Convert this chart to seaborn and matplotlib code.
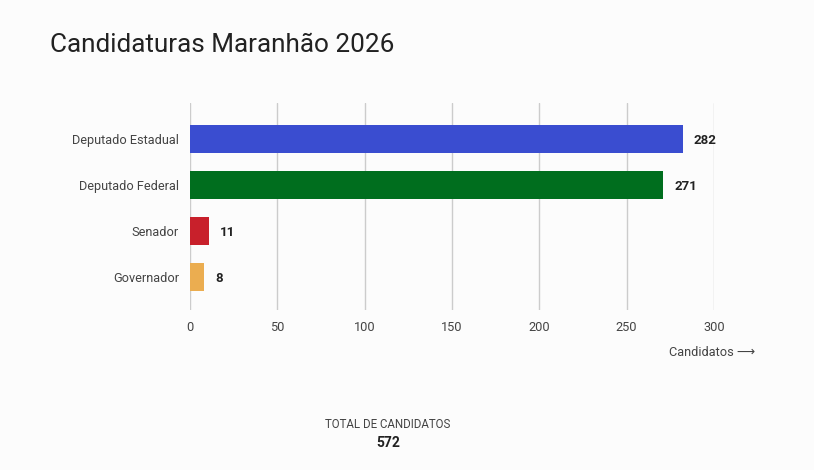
import matplotlib
matplotlib.use("Agg")
import matplotlib.pyplot as plt
import seaborn as sns
import pandas as pd

# data
cargos = ["Deputado Estadual", "Deputado Federal", "Senador", "Governador"]
candidatos = [282, 271, 11, 8]
cores = ["#3a4dd0", "#006e1e", "#c8202b", "#ebad50"]
x_ticks = [0, 50, 100, 150, 200, 250, 300]

df = pd.DataFrame({"cargo": cargos, "candidatos": candidatos})

sns.set_theme(style="white")
plt.rcParams["font.family"] = ["Roboto", "DejaVu Sans"]
bg = "#fcfcfc"

fig = plt.figure(figsize=(8.14, 4.70), dpi=100, facecolor=bg)
ax = fig.add_axes([0.2334, 0.3404, 0.6437, 0.4405], facecolor=bg)

sns.barplot(data=df, x="candidatos", y="cargo", hue="cargo", palette=cores,
            legend=False, width=0.61, saturation=1, linewidth=0, ax=ax,
            zorder=3)

for i, v in enumerate(candidatos):
    ax.annotate(str(v), (v, i), xytext=(8, 0), textcoords="offset points",
                va="center_baseline", ha="left", fontsize=9.5,
                fontweight="bold", color="#222222")

ax.set_xlim(0, 300)
ax.set_ylim(3.72, -0.78)
ax.set_xticks(x_ticks)
ax.xaxis.grid(True, color="#cccccc", linewidth=1, zorder=0)
ax.set_axisbelow(True)
for s in ax.spines.values():
    s.set_visible(False)
ax.tick_params(axis="both", length=0, labelsize=9.2, colors="#444444")
ax.tick_params(axis="x", pad=8)
ax.tick_params(axis="y", pad=8)
ax.set_ylabel("")
ax.set_xlabel("Candidatos \u27f6", fontsize=9.2, color="#444444")
ax.xaxis.set_label_coords(755 / 814, 1 - 352 / 470, transform=fig.transFigure)
ax.xaxis.label.set_horizontalalignment("right")
ax.xaxis.label.set_verticalalignment("center")

fig.text(50 / 814, 1 - 45 / 470, "Candidaturas Maranhão 2026", fontsize=18.8,
         color="#222222", va="center", ha="left")
fig.text(388 / 814, 1 - 425 / 470, "TOTAL DE CANDIDATOS", fontsize=8.3,
         color="#444444", va="center", ha="center")
fig.text(388 / 814, 1 - 443 / 470, str(sum(candidatos)), fontsize=10,
         fontweight="bold", color="#222222", va="center", ha="center")

fig.savefig("out.png", dpi=100, facecolor=bg)
